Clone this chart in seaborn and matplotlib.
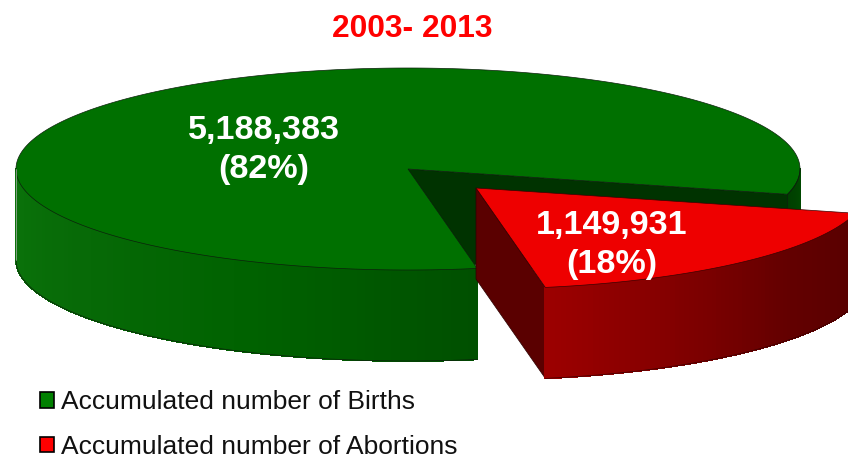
import numpy as np
import matplotlib
matplotlib.use("Agg")
import matplotlib.pyplot as plt
from matplotlib.collections import PolyCollection
from matplotlib.patches import Patch, Polygon
import seaborn as sns

title = "2003- 2013"
categories = ["Accumulated number of Births", "Accumulated number of Abortions"]
values = [5188383, 1149931]

sns.set_theme(style="white")
plt.rcParams["font.family"] = ["Liberation Sans", "DejaVu Sans"]

# pie geometry in pixels, the axes run in image coordinates
cx, cy = 408, 169
rx, ry = 392, 101
depth = 91
start_angle = -14.5
explode = (68, 19)
edge = "#0c200c"

# angle of the abortions wedge comes from the values
sweep = 360 * values[1] / sum(values)
red_from, red_to = start_angle - sweep, start_angle


def arc(a0, a1, n=200, off=(0, 0)):
    t = np.radians(np.linspace(a0, a1, n))
    return np.column_stack([cx + off[0] + rx * np.cos(t), cy + off[1] - ry * np.sin(t)])


def side(a0, a1, colors, off=(0, 0), n=80):
    # outer wall as thin strips so the shading can run along it
    pts = arc(a0, a1, n + 1, off)
    quads = [[pts[i], pts[i + 1], pts[i + 1] + [0, depth], pts[i] + [0, depth]] for i in range(n)]
    pal = sns.blend_palette(colors, n)
    return PolyCollection(quads, facecolors=pal, edgecolors=pal, linewidths=0.6, antialiaseds=False)


def outline(pts, **kw):
    return Polygon(pts, closed=True, **kw)


fig = plt.figure(figsize=(8.48, 4.55), dpi=100)
ax = fig.add_axes([0, 0, 1, 1])
ax.set_xlim(0, 848)
ax.set_ylim(455, 0)
ax.axis("off")

centre = np.array([cx, cy])

# green pie: back wall, right bit of outer wall, front wall, top
right_arc = arc(red_to, 0, 30)
ax.add_collection(side(red_to, 0, ["#003f00", "#004800"], n=20))
ax.plot(right_arc[:, 0], right_arc[:, 1], color=edge, lw=0.5)
back_end = arc(red_to, red_to, 1)[0]
ax.add_patch(outline([centre, back_end, back_end + [0, depth], centre + [0, depth]],
                     facecolor="#003300", edgecolor=edge, lw=0.5))
ax.add_collection(side(180, 360 + red_from, ["#0b740b", "#076a07", "#006200", "#005000"]))
bottom = arc(180, 360 + red_from, off=(0, depth))
ax.plot(bottom[:, 0], bottom[:, 1], color=edge, lw=0.5)
left = arc(180, 180, 1)[0]
ax.plot([left[0], left[0]], [left[1], left[1] + depth], color="#b0b0b0", lw=0.5)
top_green = arc(red_to, red_from + 360, 500)
ax.add_patch(outline(np.vstack([centre, top_green]), facecolor="#007000", edgecolor=edge, lw=0.5))

# red wedge pulled out of the pie
off = np.array(explode)
apex = centre + off
red_top = arc(red_from, red_to, 200, off)
first = red_top[0]
ax.add_patch(outline([apex, first, first + [0, depth], apex + [0, depth]],
                     facecolor="#5a0000", edgecolor="#2a0000", lw=0.5))
ax.add_collection(side(red_from, red_to, ["#9c0000", "#800000", "#620000", "#580000"], off))
red_bottom = arc(red_from, red_to, 200, (off[0], off[1] + depth))
ax.plot(red_bottom[:, 0], red_bottom[:, 1], color="#3a0000", lw=0.5)
ax.add_patch(outline(np.vstack([apex, red_top]), facecolor="#ee0000", edgecolor="#3a0000", lw=0.5))

# labels
pct = [round(100 * v / sum(values)) for v in values]
label_pos = [(264, 150), (612, 245)]
for v, p, (x, y) in zip(values, pct, label_pos):
    ax.text(x, y, f"{v:,}\n({p}%)", color="white", fontsize=24.6, fontweight="bold",
            ha="center", va="center", linespacing=1.36)

ax.text(412, 29, title, color="#ff0000", fontsize=22.9, fontweight="bold", ha="center", va="center")

handles = [Patch(facecolor="#008000", edgecolor="black", lw=1.2),
           Patch(facecolor="#ff0000", edgecolor="black", lw=1.2)]
ax.legend(handles, categories, loc="lower left", bbox_to_anchor=(40 / 848, -4 / 455),
          bbox_transform=fig.transFigure, frameon=False, fontsize=19, borderpad=0, borderaxespad=0,
          handlelength=0.53, handleheight=0.53, handletextpad=0.27, labelspacing=0.78, labelcolor="#111111")

fig.savefig("out.png", dpi=100, facecolor="white")
